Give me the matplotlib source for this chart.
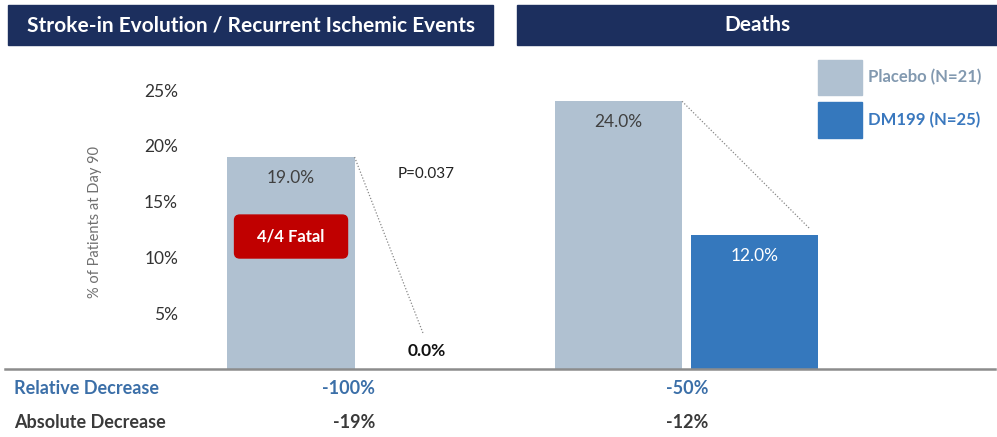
import numpy as np
import matplotlib
matplotlib.use('Agg')
import matplotlib.pyplot as plt
from matplotlib.patches import Rectangle, FancyBboxPatch

plt.rcParams['font.family'] = ['Lato', 'DejaVu Sans']

# data
groups = ['Stroke-in Evolution / Recurrent Ischemic Events', 'Deaths']
placebo = [19.0, 24.0]
dm199 = [0.0, 12.0]
relative_dec = ['-100%', '-50%']
absolute_dec = ['-19%', '-12%']
yticks = [5, 10, 15, 20, 25]
series_names = ['Placebo (N=21)', 'DM199 (N=25)']

c_plac = '#b0c1d1'
c_dm = '#3578bd'
navy = '#1c2f5e'

W, H = 997, 437
fig = plt.figure(figsize=(W / 100, H / 100), dpi=100)

# header boxes
for (x0, x1), title in zip([(8, 493), (517, 997)], groups):
    fig.patches.append(Rectangle((x0 / W, 1 - 45 / H), (x1 - x0) / W, 40 / H,
                                 transform=fig.transFigure, color=navy, zorder=0))
    fig.text((x0 + x1) / 2 / W, 1 - 25 / H, title, color='white', fontsize=15,
             fontweight='bold', ha='center', va='center')

ax = fig.add_axes([5 / W, 1 - 369 / H, 990 / W, 309 / H])
x = np.arange(len(groups))
off = 0.2076
bw = 0.388
ax.bar(x - off, placebo, bw, color=c_plac, zorder=2)
ax.bar(x + off, dm199, bw, color=c_dm, zorder=2)
ax.set_xlim(-1.081, 1.942)
ax.set_ylim(0, 27.7)

for s in ['top', 'right', 'left']:
    ax.spines[s].set_visible(False)
ax.spines['bottom'].set_color('#8c8c8c')
ax.spines['bottom'].set_linewidth(1.8)
ax.set_xticks([])
ax.set_yticks(yticks)
ax.set_yticklabels([f'{v}%' for v in yticks])
ax.tick_params(axis='y', length=0, pad=-124.6, labelsize=12.5, labelcolor='#333333')

# bar labels
for i in range(len(groups)):
    ax.text(x[i] - off, placebo[i] - 1.9, f'{placebo[i]:.1f}%', ha='center',
            va='center', fontsize=12.5, color='#404040')
ax.text(x[0] + off, 1.6, f'{dm199[0]:.1f}%', ha='center', va='center',
        fontsize=12.5, fontweight='bold', color='#111111')
ax.text(x[1] + off, dm199[1] - 1.9, f'{dm199[1]:.1f}%', ha='center',
        va='center', fontsize=12.5, color='white')

# dotted connectors
ax.plot([x[0] - off + bw / 2, x[0] + off - 0.012], [placebo[0], 3.2],
        ls=(0, (1, 1.5)), color='#888888', lw=0.9, zorder=3)
ax.plot([x[1] - off + bw / 2, x[1] + off + 0.168], [placebo[1], 12.6],
        ls=(0, (1, 1.5)), color='#888888', lw=0.9, zorder=3)

ax.text(x[0] + 0.204, 17.5, 'P=0.037', fontsize=11, color='#222222',
        ha='center', va='center')

# fatal box
ax.add_patch(FancyBboxPatch((x[0] - off - 0.1725, 9.95), 0.345, 3.85,
                            boxstyle='round,pad=0,rounding_size=0.016',
                            mutation_aspect=29, color='#c00000', zorder=4))
ax.text(x[0] - off, 11.85, '4/4 Fatal', ha='center', va='center', color='white',
        fontsize=12, fontweight='bold', zorder=5)

fig.text(95 / W, 1 - 222 / H, '% of Patients at Day 90', rotation=90,
         ha='center', va='center', fontsize=10.5, color='#707070')

# legend
for (y0, y1), name, col, tcol in zip([(60, 95), (102, 138)], series_names,
                                     [c_plac, c_dm], ['#8299b0', '#3a78be']):
    fig.patches.append(Rectangle((818 / W, 1 - y1 / H), 44 / W, (y1 - y0) / H,
                                 transform=fig.transFigure, color=col))
    fig.text(868 / W, 1 - (y0 + y1) / 2 / H, name, fontsize=12, fontweight='bold',
             color=tcol, ha='left', va='center')

# bottom rows
blue_txt = '#3b6fa8'
dark_txt = '#3a3a3a'
fig.text(14 / W, 1 - 388 / H, 'Relative Decrease', fontsize=13, color=blue_txt,
         ha='left', va='center', fontweight='bold')
fig.text(14 / W, 1 - 422 / H, 'Absolute Decrease', fontsize=13, color=dark_txt,
         ha='left', va='center', fontweight='bold')
for i, dx in zip(range(len(groups)), [0.05, 0.068]):
    xr = ax.transData.transform((x[i] + dx, 0))[0] / W
    fig.text(xr, 1 - 388 / H, relative_dec[i], fontsize=13, color=blue_txt,
             ha='right', va='center', fontweight='bold')
    fig.text(xr, 1 - 422 / H, absolute_dec[i], fontsize=13, color=dark_txt,
             ha='right', va='center', fontweight='bold')

fig.savefig('out.png', dpi=100)
